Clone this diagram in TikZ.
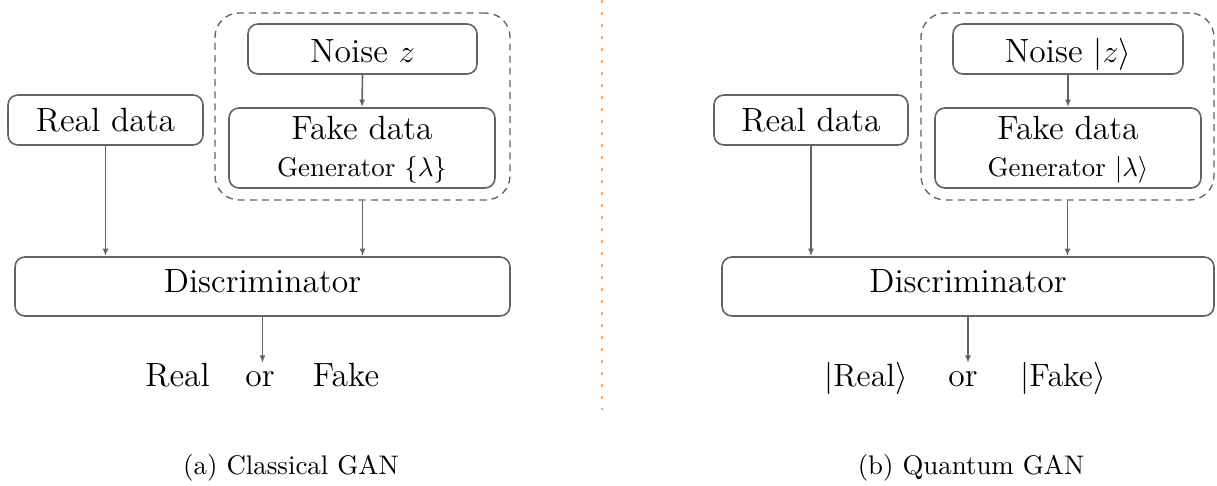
\documentclass[tikz,border=0pt]{standalone}
\usetikzlibrary{arrows.meta,fit}
\definecolor{edgegray}{RGB}{100,100,100}
\definecolor{sepor}{RGB}{245,168,95}
\begin{document}
\begin{tikzpicture}[x=0.372pt,y=-0.372pt,
  box/.style={draw=edgegray, line width=0.6pt, rounded corners=3.7pt, inner sep=0pt},
  group/.style={draw=edgegray, line width=0.5pt, dash pattern=on 2.6pt off 1.9pt, rounded corners=9pt, inner sep=0pt},
  flow/.style={draw=edgegray, line width=0.6pt, -{Latex[length=2.8pt,width=2.2pt]}},
  txt/.style={anchor=base, inner sep=0pt, font=\fontsize{12.5}{15}\selectfont},
  small/.style={anchor=base, inner sep=0pt, font=\fontsize{10}{12}\selectfont}]
\useasboundingbox (0,0) rectangle (1217,486);

% ---------- (a) classical GAN ----------
\node[group, fit={(215,13)(510,200)}] (genA) {};
\node[box, fit={(248,24)(477,74)}] (noiseA) {};
\node[txt] (noiseAt) at (362.5,63) {Noise $z$};
\node[box, fit={(229,108)(495,188)}] (fakeA) {};
\node[txt] (fakeAt) at (362,140) {Fake data};
\node[small] (genAt) at (362,177) {Generator $\{\lambda\}$};
\node[box, fit={(8,95)(203,145)}] (realA) {};
\node[txt] (realAt) at (105.5,132) {Real data};
\node[box, fit={(15,257)(510,316)}] (discA) {};
\node[txt] (discAt) at (262.5,293) {Discriminator};
\coordinate (outA) at (262.5,363);
\node[txt] (resA1) at (177.5,387) {Real};
\node[txt] (resA2) at (260,387) {or};
\node[txt] (resA3) at (346,387) {Fake};
\node[small] (capA) at (291,475) {(a) Classical GAN};

\draw[flow] (noiseA.south) -- (fakeA.north);
\draw[flow] (realA.south) -- (realA.south |- discA.north);
\draw[flow] (genA.south) -- (genA.south |- discA.north);
\draw[flow] (discA.south) -- (outA);

% ---------- separator ----------
\coordinate (sepTop) at (602,0);
\coordinate (sepBot) at (602,410);
\draw[sepor, line width=1.1pt, dash pattern=on 1.1pt off 3.36pt] (sepTop) -- (sepBot);

% ---------- (b) quantum GAN ----------
\node[group, fit={(921,13)(1214,200)}] (genB) {};
\node[box, fit={(953,24)(1183,74)}] (noiseB) {};
\node[txt] (noiseBt) at (1068,63) {Noise $|z\rangle$};
\node[box, fit={(935,108)(1201,188)}] (fakeB) {};
\node[txt] (fakeBt) at (1068,140) {Fake data};
\node[small] (genBt) at (1068,177) {Generator $|\lambda\rangle$};
\node[box, fit={(714,95)(908,145)}] (realB) {};
\node[txt] (realBt) at (811,132) {Real data};
\node[box, fit={(722,257)(1214,316)}] (discB) {};
\node[txt] (discBt) at (968,293) {Discriminator};
\coordinate (outB) at (968,363);
\node[txt] (resB1) at (866,387) {$|\mathrm{Real}\rangle$};
\node[txt] (resB2) at (963,387) {or};
\node[txt] (resB3) at (1063,387) {$|\mathrm{Fake}\rangle$};
\node[small] (capB) at (971,475) {(b) Quantum GAN};

\draw[flow] (noiseB.south) -- (fakeB.north);
\draw[flow] (realB.south) -- (realB.south |- discB.north);
\draw[flow] (genB.south) -- (genB.south |- discB.north);
\draw[flow] (discB.south) -- (outB);
\end{tikzpicture}
\end{document}
